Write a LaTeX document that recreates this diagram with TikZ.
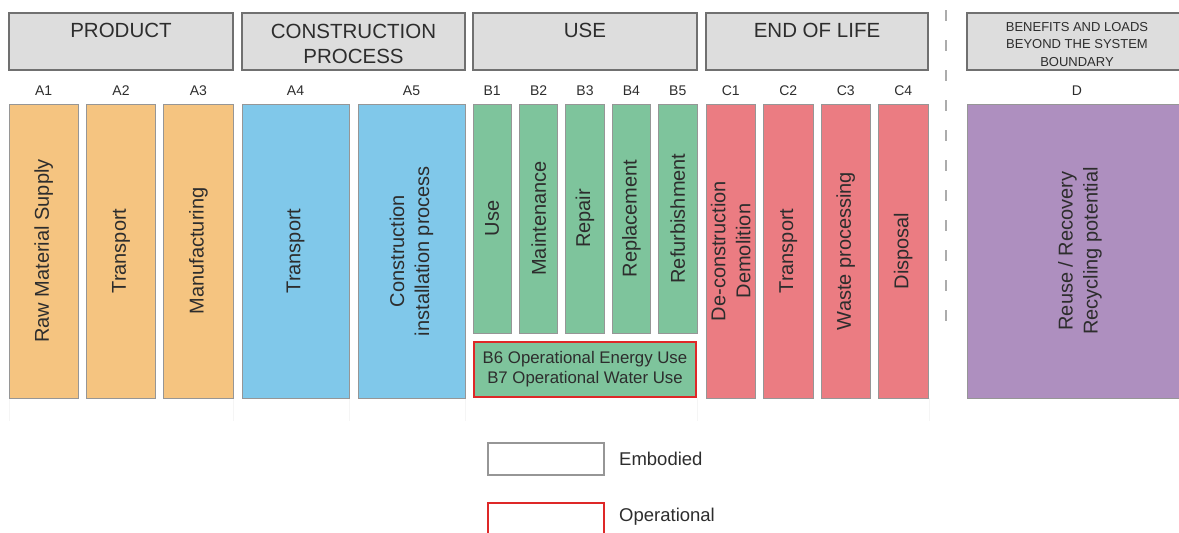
\documentclass[tikz,border=0pt]{standalone}
\usepackage{fontspec}
\setmainfont{Liberation Sans}
\definecolor{hdrfill}{RGB}{221,221,221}
\definecolor{hdrline}{RGB}{112,112,112}
\definecolor{colline}{RGB}{150,150,150}
\definecolor{cOrange}{RGB}{245,196,128}
\definecolor{cBlue}{RGB}{128,200,234}
\definecolor{cGreen}{RGB}{126,196,156}
\definecolor{cRed}{RGB}{235,124,130}
\definecolor{cPurple}{RGB}{174,143,191}
\definecolor{opred}{RGB}{222,40,40}
\definecolor{txt}{RGB}{45,45,45}
\tikzset{
  hdrbox/.style={draw=hdrline, fill=hdrfill, line width=1.2pt},
  hdrtext/.style={text=txt, font=\fontsize{20.5}{25.5}\selectfont, align=center, inner sep=0pt},
  colbox/.style={draw=colline, line width=1pt, rotate=90, text=txt, align=center,
     font=\fontsize{20}{25}\selectfont, inner sep=0pt},
  lbl/.style={text=txt, font=\fontsize{14}{16}\selectfont, inner sep=0pt},
}
\begin{document}
\begin{tikzpicture}[x=1pt,y=-1pt]
\useasboundingbox (0,0) rectangle (1179,533);
\begin{scope}
\clip (0,0) rectangle (1179,533);
% headers
\draw[hdrbox] (9,13) rectangle (233,70);
\draw[hdrbox] (242,13) rectangle (465,70);
\draw[hdrbox] (473,13) rectangle (697,70);
\draw[hdrbox] (706,13) rectangle (928,70);
\draw[hdrbox] (967,13) rectangle (1195,70);
\node[hdrtext] (tp) at (121,30) {PRODUCT};
\node[hdrtext] (tc) at (353.5,44) {CONSTRUCTION\\PROCESS};
\node[hdrtext] (tu) at (585,30) {USE};
\node[hdrtext] (te) at (817,30) {END OF LIFE};
\node[hdrtext, font=\fontsize{13}{17.3}\selectfont] (tb) at (1077,44.5) {BENEFITS AND LOADS\\BEYOND THE SYSTEM\\BOUNDARY};
% faint grid traces
\foreach \xx in {9,233,349,465,697,929}
  \draw[gray!8, line width=0.8pt] (\xx,398) -- (\xx,421);
% columns
\node[colbox, fill=cOrange, minimum width=294pt, minimum height=69.3pt] (a1) at (43.65,251) {Raw Material Supply};
\node[colbox, fill=cOrange, minimum width=294pt, minimum height=69.4pt] (a2) at (121,251) {Transport};
\node[colbox, fill=cOrange, minimum width=294pt, minimum height=69.3pt] (a3) at (198.35,251) {Manufacturing};
\node[colbox, fill=cBlue, minimum width=294pt, minimum height=107pt] (a4) at (295.5,251) {Transport};
\node[colbox, fill=cBlue, minimum width=294pt, minimum height=107pt] (a5) at (411.5,251) {Construction\\installation process};
\node[colbox, fill=cGreen, minimum width=229pt, minimum height=38.4pt] (b1) at (492.2,218.5) {Use};
\node[colbox, fill=cGreen, minimum width=229pt, minimum height=38.4pt] (b2) at (538.6,218.5) {Maintenance};
\node[colbox, fill=cGreen, minimum width=229pt, minimum height=38.4pt] (b3) at (585,218.5) {Repair};
\node[colbox, fill=cGreen, minimum width=229pt, minimum height=38.4pt] (b4) at (631.4,218.5) {Replacement};
\node[colbox, fill=cGreen, minimum width=229pt, minimum height=38.4pt] (b5) at (677.8,218.5) {Refurbishment};
\node[colbox, fill=cRed, minimum width=294pt, minimum height=49.5pt] (c1) at (730.75,251) {De-construction\\Demolition};
\node[colbox, fill=cRed, minimum width=294pt, minimum height=49.5pt] (c2) at (788.25,251) {Transport};
\node[colbox, fill=cRed, minimum width=294pt, minimum height=49.5pt] (c3) at (845.75,251) {Waste processing};
\node[colbox, fill=cRed, minimum width=294pt, minimum height=49.5pt] (c4) at (903.25,251) {Disposal};
\node[colbox, fill=cPurple, minimum width=294pt, minimum height=226pt] (d) at (1080,251) {Reuse / Recovery\\Recycling potential};
% B6/B7
\node[draw=opred, fill=cGreen, line width=2pt, minimum width=222pt, minimum height=55pt, inner sep=0pt,
      text=txt, align=center, font=\fontsize{16.8}{20}\selectfont] (b67) at (585,369.5)
      {B6 Operational Energy Use\\B7 Operational Water Use};
% module labels
\node[lbl] at (a1.east |- 0,91) {A1};
\node[lbl] at (a2.east |- 0,91) {A2};
\node[lbl] at (a3.east |- 0,91) {A3};
\node[lbl] at (a4.east |- 0,91) {A4};
\node[lbl] at (a5.east |- 0,91) {A5};
\node[lbl] at (b1.east |- 0,91) {B1};
\node[lbl] at (b2.east |- 0,91) {B2};
\node[lbl] at (b3.east |- 0,91) {B3};
\node[lbl] at (b4.east |- 0,91) {B4};
\node[lbl] at (b5.east |- 0,91) {B5};
\node[lbl] at (c1.east |- 0,91) {C1};
\node[lbl] at (c2.east |- 0,91) {C2};
\node[lbl] at (c3.east |- 0,91) {C3};
\node[lbl] at (c4.east |- 0,91) {C4};
\node[lbl] at (1077,91) {D};
% system boundary
\coordinate (sbtop) at (946,10);
\coordinate (sbbot) at (946,340);
\draw[gray!65, line width=1.4pt, dash pattern=on 11pt off 19pt] (sbtop) -- (sbbot);
% legend
\node[draw=colline, line width=1.6pt, minimum width=116pt, minimum height=32pt, inner sep=0pt] (emb) at (546,459) {};
\node[anchor=west, text=txt, font=\fontsize{18.5}{22}\selectfont, inner sep=0pt] (embt) at (619,459) {Embodied};
\node[draw=opred, line width=2pt, minimum width=116pt, minimum height=40pt, inner sep=0pt] (op) at (546,523) {};
\node[anchor=west, text=txt, font=\fontsize{18.5}{22}\selectfont, inner sep=0pt] (opt) at (619,517) {Operational};
\end{scope}
\end{tikzpicture}
\end{document}
